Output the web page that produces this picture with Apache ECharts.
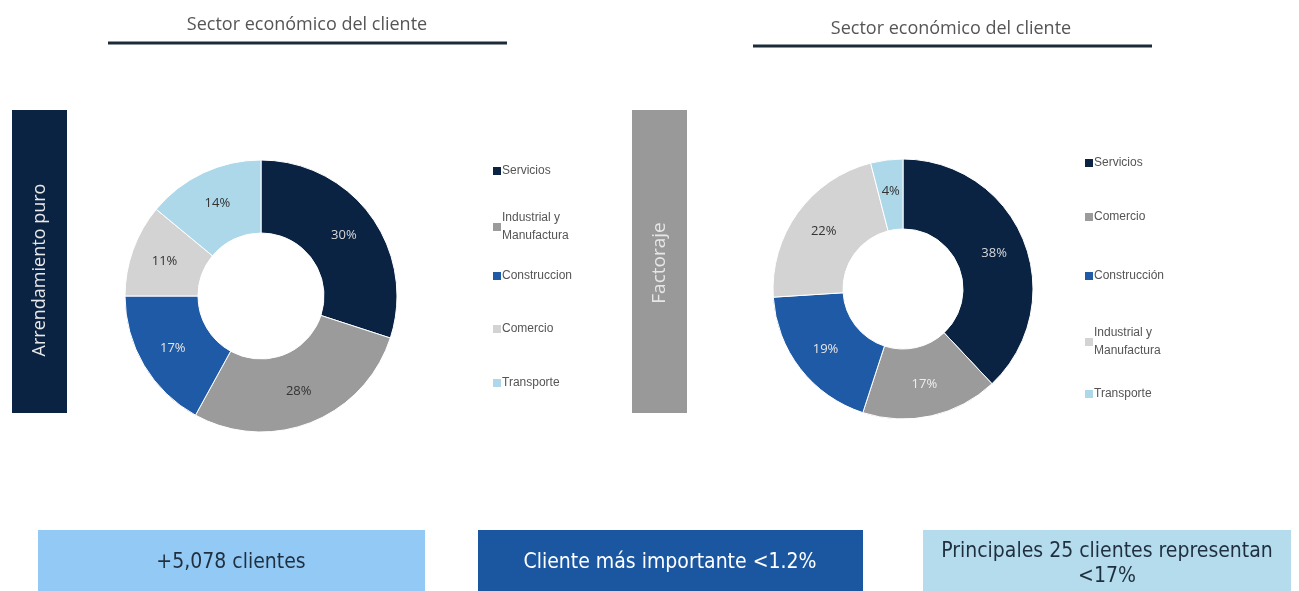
<!DOCTYPE html>
<html>
<head>
<meta charset="utf-8">
<script src="https://cdn.jsdelivr.net/npm/echarts@6/dist/echarts.min.js"></script>
<style>
  html, body { margin: 0; padding: 0; background: #fff; }
  #main { width: 1299px; height: 591px; }
</style>
</head>
<body>
<div id="main"></div>
<script>
// Arrendamiento puro (izquierda)
var leftNames = ['Servicios', 'Industrial y\nManufactura', 'Construccion', 'Comercio', 'Transporte'];
var leftValues = [30, 28, 17, 11, 14];
// Factoraje (derecha)
var rightNames = ['Servicios', 'Comercio', 'Construcción', 'Industrial y\nManufactura', 'Transporte'];
var rightValues = [38, 17, 19, 22, 4];
// textos
var chartTitle = 'Sector económico del cliente';
var panelLabels = ['Arrendamiento puro', 'Factoraje'];
var boxTexts = ['+5,078 clientes', 'Cliente más importante <1.2%', 'Principales 25 clientes representan\n<17%'];

var sliceColors = ['#0b2342', '#9b9b9b', '#1f5aa6', '#d3d3d3', '#acd8ea'];
var leftLabelColors = ['#d8d8d8', '#333', '#e6e6e6', '#333', '#333'];
var rightLabelColors = ['#d8d8d8', '#eee', '#e6e6e6', '#333', '#333'];

var chart = echarts.init(document.getElementById('main'));

function pieData(names, values, labelColors) {
  return names.map(function (n, i) {
    return {
      name: n,
      value: values[i],
      itemStyle: { color: sliceColors[i] },
      label: { color: labelColors[i] }
    };
  });
}

// una leyenda por elemento para colocar cada uno como en la lamina
function legends(names, left, tops) {
  return names.map(function (n, i) {
    return {
      orient: 'vertical',
      left: left,
      top: tops[i],
      itemWidth: 10,
      itemHeight: 10,
      itemGap: 0,
      padding: 0,
      selectedMode: false,
      icon: 'rect',
      textStyle: { fontSize: 12, color: '#555', fontFamily: 'Liberation Sans', lineHeight: 18, padding: [0, 0, 0, -5] },
      data: [{ name: n, itemStyle: { color: sliceColors[i] } }]
    };
  });
}

var font = 'Open Sans';
var boxFont = '"Liberation Sans Narrow", "DejaVu Sans Condensed", sans-serif';

var option = {
  animation: false,
  legend: legends(leftNames, 491, [162, 209, 267, 320, 374])
    .concat(legends(rightNames, 1083, [154, 208, 267, 324, 385])),
  series: [
    {
      name: 'Arrendamiento puro',
      type: 'pie',
      center: [261, 296],
      radius: [63, 136],
      startAngle: 90,
      itemStyle: { borderColor: '#fff', borderWidth: 1 },
      label: { position: 'inside', formatter: '{c}%', fontSize: 13, fontFamily: font },
      labelLine: { show: false },
      data: pieData(leftNames, leftValues, leftLabelColors)
    },
    {
      name: 'Factoraje',
      type: 'pie',
      center: [903, 289],
      radius: [60, 130],
      startAngle: 90,
      itemStyle: { borderColor: '#fff', borderWidth: 1 },
      label: { position: 'inside', formatter: '{c}%', fontSize: 13, fontFamily: font },
      labelLine: { show: false },
      data: pieData(rightNames, rightValues, rightLabelColors)
    }
  ],
  graphic: [
    // titulos y lineas
    { type: 'text', x: 307, y: 25, style: { text: chartTitle, align: 'center', verticalAlign: 'middle', font: '18px "Open Sans"', fill: '#555' } },
    { type: 'line', shape: { x1: 108, y1: 43, x2: 507, y2: 43 }, style: { stroke: '#1c2b3a', lineWidth: 3 } },
    { type: 'text', x: 951, y: 29, style: { text: chartTitle, align: 'center', verticalAlign: 'middle', font: '18px "Open Sans"', fill: '#555' } },
    { type: 'line', shape: { x1: 753, y1: 46, x2: 1152, y2: 46 }, style: { stroke: '#1c2b3a', lineWidth: 3 } },
    // barras laterales
    { type: 'rect', shape: { x: 12, y: 110, width: 55, height: 303 }, style: { fill: '#0b2342' } },
    { type: 'text', x: 40, y: 270, rotation: Math.PI / 2, style: { text: panelLabels[0], align: 'center', verticalAlign: 'middle', font: '18px "Open Sans"', fill: '#e8e8e8' } },
    { type: 'rect', shape: { x: 632, y: 110, width: 55, height: 303 }, style: { fill: '#999999' } },
    { type: 'text', x: 660, y: 263, rotation: Math.PI / 2, style: { text: panelLabels[1], align: 'center', verticalAlign: 'middle', font: '19px "Open Sans"', fill: '#e6e6e6' } },
    // cajas inferiores
    { type: 'rect', shape: { x: 38, y: 530, width: 387, height: 61 }, style: { fill: '#93c9f5' } },
    { type: 'text', x: 231, y: 563, style: { text: boxTexts[0], align: 'center', verticalAlign: 'middle', font: '21px ' + boxFont, fill: '#1f2f3f' } },
    { type: 'rect', shape: { x: 478, y: 530, width: 385, height: 61 }, style: { fill: '#1b57a0' } },
    { type: 'text', x: 670, y: 563, style: { text: boxTexts[1], align: 'center', verticalAlign: 'middle', font: '21px ' + boxFont, fill: '#ffffff' } },
    { type: 'rect', shape: { x: 923, y: 530, width: 368, height: 61 }, style: { fill: '#b4dcec' } },
    { type: 'text', x: 1107, y: 564, style: { text: boxTexts[2], align: 'center', verticalAlign: 'middle', lineHeight: 25, font: '21px ' + boxFont, fill: '#1f2f3f' } }
  ]
};

chart.setOption(option);
</script>
</body>
</html>
